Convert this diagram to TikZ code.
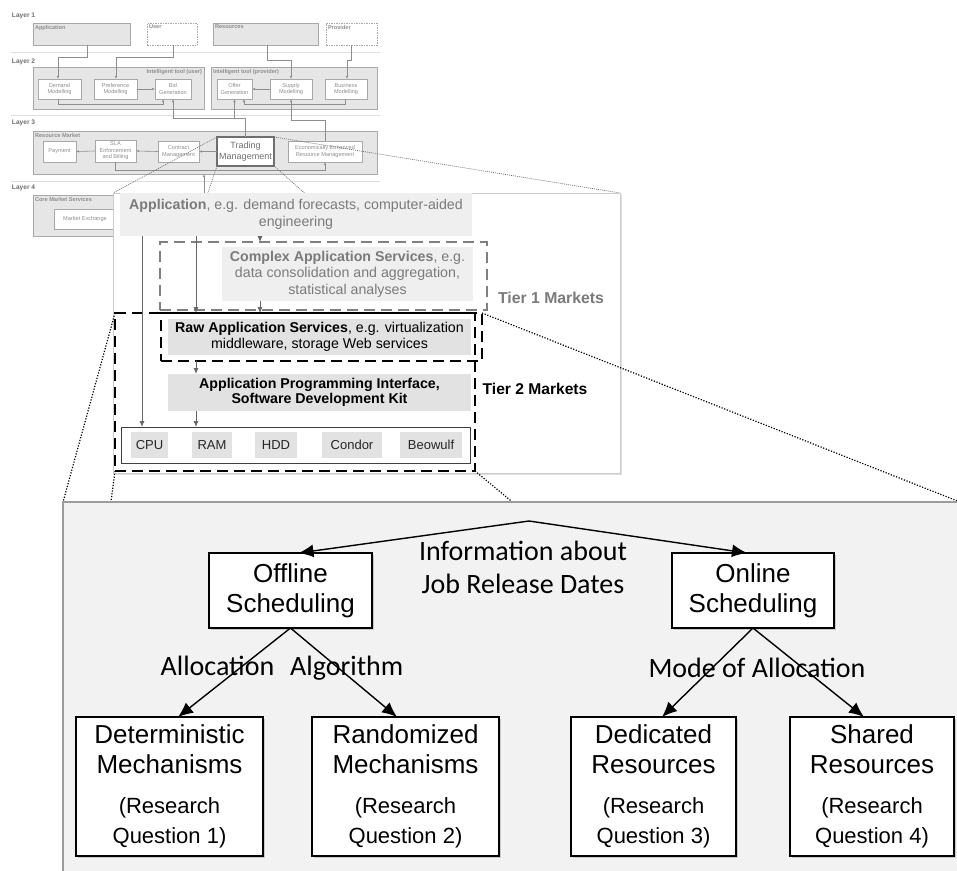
\documentclass[tikz,border=0pt]{standalone}
\usepackage{fontspec}
\setmainfont{Liberation Sans}
\newfontfamily\calibri{Carlito}
\usetikzlibrary{arrows.meta,shadows,calc}

\definecolor{fadetxt}{HTML}{8E8E8E}
\definecolor{fadedark}{HTML}{6E6E6E}
\definecolor{fadeline}{HTML}{A8A8A8}
\definecolor{fadefill}{HTML}{E6E6E6}
\definecolor{sepline}{HTML}{DEDEDE}
\definecolor{tieronefill}{HTML}{EFEFEF}
\definecolor{tiertwofill}{HTML}{E2E2E2}
\definecolor{tieronetxt}{HTML}{7A7A7A}
\definecolor{panelfill}{HTML}{F2F2F2}
\definecolor{panelrule}{HTML}{9C9C9C}

\newcommand\rqfont{\fontsize{22}{27}\selectfont}

\pgfdeclarelayer{sketch}
\pgfdeclarelayer{zoomA}
\pgfdeclarelayer{tiers}
\pgfdeclarelayer{zoomB}
\pgfsetlayers{sketch,zoomA,tiers,zoomB,main}

\begin{document}
\begin{tikzpicture}[x=1pt,y=-1pt,
  every node/.style={inner sep=0pt, outer sep=0pt},
  layertxt/.style={font=\bfseries\fontsize{6.6}{8}\selectfont, text=fadedark, anchor=west},
  layerarea/.style={draw=fadeline, fill=fadefill, line width=0.6pt},
  arealbl/.style={font=\bfseries\fontsize{5.6}{7}\selectfont, text=fadetxt},
  sbox/.style={draw=fadeline, fill=white, line width=0.6pt, align=center,
    text=fadetxt, font=\fontsize{5.6}{6.6}\selectfont},
  ghost/.style={draw=fadeline, fill=white, dash pattern=on 1.5pt off 1pt, line width=0.6pt},
  farrow/.style={draw=fadetxt, line width=0.6pt, -{Latex[length=3pt,width=2.4pt]}},
  sepr/.style={draw=sepline, line width=0.8pt},
  zoomfaint/.style={draw=black!55, line width=0.7pt, dash pattern=on 1pt off 1pt},
  zoomdark/.style={draw=black, line width=1.2pt, dash pattern=on 1.2pt off 1.6pt},
  tierone/.style={fill=tieronefill, text=tieronetxt, align=center,
    font=\fontsize{14.2}{16.5}\selectfont},
  tiertwo/.style={fill=tiertwofill, text=black, align=center,
    font=\fontsize{14.2}{15.5}\selectfont},
  dashgray/.style={draw=black!50, line width=2.2pt, dash pattern=on 11pt off 6pt},
  dashblack/.style={draw=black, line width=2.2pt, dash pattern=on 11pt off 6pt},
  hwbox/.style={fill=tiertwofill, text=black!85, font=\fontsize{13}{15}\selectfont,
    minimum height=26pt},
  marrow/.style={draw=black!60, line width=0.9pt, -{Latex[length=6pt,width=5pt]}},
  cbox/.style={draw=black, fill=white, line width=1.1pt, align=center,
    font=\fontsize{26}{30}\selectfont,
    drop shadow={shadow xshift=2pt, shadow yshift=-2pt, opacity=0.35}},
  barrow/.style={draw=black, line width=1.4pt, -{Latex[length=15pt,width=13pt]}},
  calib/.style={font=\calibri\fontsize{28}{33}\selectfont, align=center},
]
\useasboundingbox (0,0) rectangle (957,870);

% ---------------- four-layer architecture sketch ----------------
\begin{pgfonlayer}{sketch}
  % Layer 1
  \node[layertxt] (lay1) at (12,16) {Layer 1};
  \node[layerarea, minimum width=97pt, minimum height=22pt,
    label={[arealbl,anchor=north west,xshift=2pt,yshift=-2pt]north west:Application}] (app1) at (81.5,34) {};
  \node[ghost, minimum width=50pt, minimum height=22pt,
    label={[arealbl,anchor=north west,xshift=2pt,yshift=-2pt]north west:User}] (usr) at (172,34) {};
  \node[layerarea, minimum width=105pt, minimum height=22pt,
    label={[arealbl,anchor=north west,xshift=2pt,yshift=-2pt]north west:Resources}] (res1) at (265.5,34) {};
  \node[ghost, minimum width=51pt, minimum height=22pt,
    label={[arealbl,anchor=north west,xshift=2pt,yshift=-2pt]north west:Provider}] (prov) at (351.5,34) {};
  \draw[sepr] (11,52) -- (380,52);

  % Layer 2
  \node[layertxt] (lay2) at (12,62) {Layer 2};
  \node[layerarea, minimum width=171pt, minimum height=42pt,
    label={[arealbl,anchor=north east,xshift=-2pt,yshift=-2pt]north east:Intelligent tool (user)}] (itu) at (118.5,88) {};
  \node[layerarea, minimum width=166pt, minimum height=42pt,
    label={[arealbl,anchor=north west,xshift=2pt,yshift=-2pt]north west:Intelligent tool (provider)}] (itp) at (294,88) {};
  \node[sbox, minimum width=43pt, minimum height=20pt] (dem) at (59.5,89) {Demand\\Modelling};
  \node[sbox, minimum width=43pt, minimum height=20pt] (pref) at (115.5,89) {Preference\\Modelling};
  \node[sbox, minimum width=36pt, minimum height=20pt] (bid) at (173,89) {Bid\\Generation};
  \node[sbox, minimum width=35pt, minimum height=20pt] (offer) at (234.5,89) {Offer\\Generation};
  \node[sbox, minimum width=42pt, minimum height=20pt] (supply) at (291,89) {Supply\\Modelling};
  \node[sbox, minimum width=42pt, minimum height=20pt] (bus) at (346,89) {Business\\Modelling};
  \draw[sepr] (11,115) -- (380,115);

  \draw[farrow] ([xshift=5.5pt]app1.south) -- ++(0,12) -| ([xshift=-1.5pt]dem.north);
  \draw[farrow] ([xshift=1pt]usr.south) -- ++(0,12) -| ([xshift=0.5pt]pref.north);
  \draw[farrow] ([xshift=1.5pt]res1.south) -- ++(0,15) -| (supply.north);
  \draw[farrow] (prov.south) -- ++(0,15) -| ([xshift=1pt]bus.north);
  \draw[farrow] (pref.east) -- (bid.west);
  \draw[farrow] ([xshift=-1.5pt]dem.south) -- ++(0,5) -| ([xshift=-10pt]bid.south);
  \draw[farrow] (supply.west) -- (offer.east);
  \draw[farrow] ([xshift=-1pt]bus.south) -- ++(0,5) -| ([xshift=9.5pt]offer.south);

  % Layer 3
  \node[layertxt] (lay3) at (12,123) {Layer 3};
  \node[layerarea, minimum width=344pt, minimum height=43pt,
    label={[arealbl,anchor=north west,xshift=2pt,yshift=-2pt]north west:Resource Market}] (rm) at (205,152.5) {};
  \node[sbox, minimum width=33pt, minimum height=21pt] (pay) at (59.5,151.5) {Payment};
  \node[sbox, minimum width=41pt, minimum height=22pt] (sla) at (115.5,151) {SLA\\Enforcement\\and Billing};
  \node[sbox, minimum width=41pt, minimum height=21pt] (contract) at (178.5,151.5) {Contract\\Management};
  \node[sbox, draw=fadedark, line width=1.3pt, text=fadedark, font=\fontsize{9}{11}\selectfont,
    minimum width=57pt, minimum height=29pt] (trade) at (245.5,151.5) {Trading\\Management};
  \node[sbox, minimum width=74pt, minimum height=21pt] (eerm) at (325,151.5) {Economically Enhanced\\Resource Management};
  \draw[sepr] (11,181) -- (380,181);

  \draw[farrow] (trade.west) -- (contract.east);
  \draw[farrow] (contract.west) -- (sla.east);
  \draw[farrow] (sla.west) -- (pay.east);
  \draw[farrow] (sla.south) -- ++(0,8) -| (eerm.south);
  \coordinate (tjoin) at ($(trade.north)+(0,-19)$);
  \draw[farrow] (trade.north) -- (tjoin) -| (bid.south);
  \draw[farrow] (tjoin -| offer.south) -- (offer.south);
  \draw[farrow] (eerm.north) -- ++(0,-21) -| (supply.south);
  \draw[farrow] ([xshift=-1pt,yshift=-19pt]rm.south) -- ([xshift=-1pt]rm.south);

  % Layer 4
  \node[layertxt] (lay4) at (12,188) {Layer 4};
  \node[layerarea, minimum width=344pt, minimum height=41pt,
    label={[arealbl,anchor=north west,xshift=2pt,yshift=-2pt]north west:Core Market Services}] (cms) at (205,215.5) {};
  \node[sbox, minimum width=62pt, minimum height=20pt] (mex) at (85,219) {Market Exchange};
\end{pgfonlayer}

% ---------------- tier markets (zoom of Trading Management) ----------------
\begin{pgfonlayer}{tiers}
  \node[draw=black!20, fill=white, line width=0.8pt, minimum width=507pt, minimum height=280pt,
    drop shadow={shadow xshift=1.5pt, shadow yshift=-1.5pt, opacity=0.25}] (mid) at (366.5,333) {};

  \node[tierone, minimum width=352pt, minimum height=43pt] (appT) at (296,214.5)
    {\textbf{Application}, e.g. demand forecasts, computer-aided\\engineering};
  \node[dashgray, minimum width=327pt, minimum height=68pt] (cplxD) at (323.5,276) {};
  \node[tierone, minimum width=251pt, minimum height=54pt] (cplx) at (347.5,274)
    {\textbf{Complex Application Services}, e.g.\\data consolidation and aggregation,\\statistical analyses};
  \node[font=\bfseries\fontsize{15.8}{18}\selectfont, text=tieronetxt] (t1lbl) at (551,298) {Tier 1 Markets};

  \node[dashblack, minimum width=360pt, minimum height=158pt] (tier2D) at (295,392) {};
  \node[dashblack, minimum width=321pt, minimum height=48pt] (rawD) at (321.5,337) {};
  \node[tiertwo, minimum width=303pt, minimum height=36pt] (raw) at (319.5,337)
    {\textbf{Raw Application Services}, e.g. virtualization\\middleware, storage Web services};
  \node[tiertwo, font=\bfseries\fontsize{14.2}{15.5}\selectfont, minimum width=303pt, minimum height=37pt]
    (api) at (319.5,392.5) {Application Programming Interface,\\Software Development Kit};
  \node[font=\bfseries\fontsize{15.6}{18}\selectfont] (t2lbl) at (535,389) {Tier 2 Markets};

  \node[draw=black!75, line width=1pt, minimum width=349pt, minimum height=36pt] (hw) at (295.5,445) {};
  \node[hwbox, minimum width=37pt] (cpu) at (149.5,445) {CPU};
  \node[hwbox, minimum width=40pt] (ram) at (212,445) {RAM};
  \node[hwbox, minimum width=42pt] (hdd) at (276,445) {HDD};
  \node[hwbox, minimum width=60pt] (condor) at (352,445) {Condor};
  \node[hwbox, minimum width=62pt] (beowulf) at (431,445) {Beowulf};

  \coordinate (a1) at ([xshift=-154pt]appT.south);
  \coordinate (a2) at ([xshift=-100pt]appT.south);
  \coordinate (a3) at ([xshift=-36pt]appT.south);
  \coordinate (a4) at ([xshift=-87.5pt]cplx.south);
  \coordinate (a5) at ([xshift=-125.5pt]rawD.south);
  \coordinate (a6) at ([xshift=-123.5pt]api.south);
  \draw[marrow] (a1) -- (a1 |- hw.north);
  \draw[marrow] (a2) -- (a2 |- rawD.north);
  \draw[marrow] (a3) -- (a3 |- cplxD.north);
  \draw[marrow] (a4) -- (a4 |- rawD.north);
  \draw[marrow] (a5) -- (a5 |- api.north);
  \draw[marrow] (a6) -- (a6 |- hw.north);
\end{pgfonlayer}

% ---------------- scheduling taxonomy (zoom of Tier 2) ----------------
\node[draw=panelrule, fill=panelfill, line width=2pt, minimum width=897pt, minimum height=371pt]
  (panel) at (511.5,687.5) {};

\node[cbox, minimum width=163pt, minimum height=75pt] (off) at (290.5,590.5) {Offline\\Scheduling};
\node[cbox, minimum width=162pt, minimum height=75pt] (onl) at (753,590.5) {Online\\Scheduling};
\node[cbox, minimum width=187pt, minimum height=139pt] (det) at (169.5,786.5)
  {Deterministic\\Mechanisms\\[10pt]\rqfont (Research\\\rqfont Question 1)};
\node[cbox, minimum width=187pt, minimum height=139pt] (rnd) at (405.5,786.5)
  {Randomized\\Mechanisms\\[10pt]\rqfont (Research\\\rqfont Question 2)};
\node[cbox, minimum width=165pt, minimum height=139pt] (ded) at (653.5,786.5)
  {Dedicated\\Resources\\[10pt]\rqfont (Research\\\rqfont Question 3)};
\node[cbox, minimum width=164pt, minimum height=139pt] (shr) at (872,786.5)
  {Shared\\Resources\\[10pt]\rqfont (Research\\\rqfont Question 4)};

\node[calib] (info) at (523,567) {Information about\\Job Release Dates};
\node[calib] (alg) at (282,668) {Allocation\hspace{16pt}Algorithm};
\node[calib] (mode) at (757,668) {Mode of Allocation};

\coordinate (apex) at (529,521);
\draw[barrow] (apex) -- ([xshift=8pt]off.north);
\draw[barrow] (apex) -- ([xshift=-6pt]onl.north);
\draw[barrow] (off.south) -- ([xshift=8.5pt]det.north);
\draw[barrow] (off.south) -- ([xshift=-8.5pt]rnd.north);
\draw[barrow] (onl.south) -- ([xshift=8.5pt]ded.north);
\draw[barrow] (onl.south) -- ([xshift=-8pt]shr.north);

% ---------------- zoom guide lines ----------------
\begin{pgfonlayer}{zoomA}
  \draw[zoomfaint] (trade.north west) -- (mid.north west);
  \draw[zoomfaint] (trade.north east) -- (mid.north east);
  \draw[zoomfaint] (trade.south west) -- (mid.south west);
  \draw[zoomfaint] (trade.south east) -- (mid.south east);
\end{pgfonlayer}
\begin{pgfonlayer}{zoomB}
  \draw[zoomdark] (tier2D.north west) -- (panel.north west);
  \draw[zoomdark] (rawD.north east) -- (panel.north east);
  \draw[zoomdark] (tier2D.south west) -- (panel.south west);
  \draw[zoomdark] (tier2D.south east) -- (panel.south east);
\end{pgfonlayer}
\end{tikzpicture}
\end{document}
